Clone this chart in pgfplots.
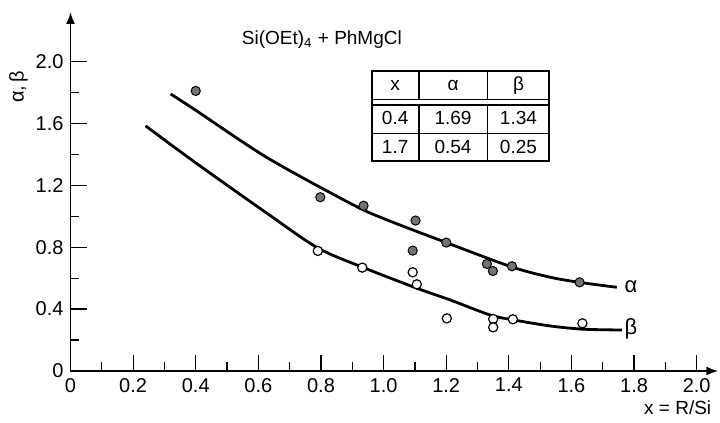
\documentclass[border=0pt]{standalone}
\usepackage{pgfplots}
\pgfplotsset{compat=1.18}
\usepackage{fontspec}
\setmainfont{Liberation Sans}
\usepackage{array}
\usetikzlibrary{arrows.meta}

\begin{document}
\begin{tikzpicture}
\path[use as bounding box] (-35.25pt,-26pt) rectangle (324.75pt,185.5pt);
\begin{axis}[
  scale only axis, width=323.9pt, height=179.5pt,
  xmin=0, xmax=2.069, ymin=0, ymax=2.32,
  axis x line=bottom, axis y line=left,
  axis line style={line width=0.9pt,-{Latex[length=6pt,width=4.5pt]}},
  xtick={0,0.2,0.4,0.6,0.8,1.0,1.2,1.4,1.6,1.8,2.0},
  xticklabels={0,0.2,0.4,0.6,0.8,1.0,1.2,1.4,1.6,1.8,2.0},
  minor xtick={0.1,0.3,0.5,0.7,0.9,1.1,1.3,1.5,1.7,1.9},
  ytick={0,0.4,0.8,1.2,1.6,2.0},
  yticklabels={0,0.4,0.8,1.2,1.6,2.0},
  minor ytick={0.2,0.6,1.0,1.4,1.8},
  tick align=inside,
  major tick length=8pt, minor tick length=4.5pt,
  every tick/.style={black, line width=0.6pt},
  tick label style={font=\fontsize{10}{12}\selectfont},
  clip=false,
]
% fitted curves
\addplot[smooth, line width=1.4pt, no marks] coordinates {
  (0.32,1.79) (0.40,1.685) (0.627,1.38) (0.893,1.084) (1.0,0.985)
  (1.20,0.83) (1.41,0.672) (1.532,0.606) (1.628,0.572) (1.745,0.541)};
\addplot[smooth, line width=1.4pt, no marks] coordinates {
  (0.24,1.584) (0.40,1.345) (0.627,1.02) (0.79,0.795) (0.936,0.668)
  (1.106,0.535) (1.213,0.459) (1.34,0.362) (1.415,0.33) (1.532,0.291)
  (1.638,0.27) (1.761,0.265)};
% alpha (filled)
\addplot[only marks, mark=*, mark size=2.3pt,
  mark options={fill=black!55, draw=black, line width=0.5pt}] coordinates {
  (0.40,1.81) (0.798,1.123) (0.936,1.068) (1.102,0.972) (1.093,0.778)
  (1.20,0.83) (1.33,0.692) (1.349,0.646) (1.41,0.677) (1.626,0.573)};
% beta (open)
\addplot[only marks, mark=*, mark size=2.3pt,
  mark options={fill=white, draw=black, line width=0.6pt}] coordinates {
  (0.79,0.776) (0.932,0.668) (1.093,0.638) (1.106,0.56) (1.202,0.34)
  (1.35,0.336) (1.35,0.282) (1.413,0.334) (1.635,0.308)};

\node[font=\fontsize{11}{13}\selectfont] at (axis cs:1.79,0.545) {α};
\node[font=\fontsize{11}{13}\selectfont] at (axis cs:1.79,0.27) {β};
\node[anchor=west, font=\fontsize{9.5}{11}\selectfont] at (axis cs:0.525,2.144)
  {Si(OEt)\textsubscript{4} + PhMgCl};
\node[anchor=base east, font=\fontsize{9.5}{11}\selectfont]
  at ([yshift=-22pt]axis cs:2.069,0) {x = R/Si};
\node[rotate=90, font=\fontsize{10}{12}\selectfont]
  at ([xshift=-26pt]axis cs:0,1.836) {α,\,β};

\node[anchor=north west, draw, line width=1.1pt, inner sep=0pt,
  font=\fontsize{9.5}{11}\selectfont] at (axis cs:0.96,1.946) {%
  \setlength{\tabcolsep}{0pt}\setlength{\arrayrulewidth}{0.7pt}%
  \begin{tabular}{>{\centering\arraybackslash}p{23pt}|>{\centering\arraybackslash}p{33.5pt}|>{\centering\arraybackslash}p{30.5pt}}
  \rule[-4pt]{0pt}{14pt}x & α & β\\ \hline\hline
  \rule[-4pt]{0pt}{13.5pt}0.4 & 1.69 & 1.34\\ \hline
  \rule[-4pt]{0pt}{13.5pt}1.7 & 0.54 & 0.25
  \end{tabular}};
\end{axis}
\end{tikzpicture}
\end{document}
